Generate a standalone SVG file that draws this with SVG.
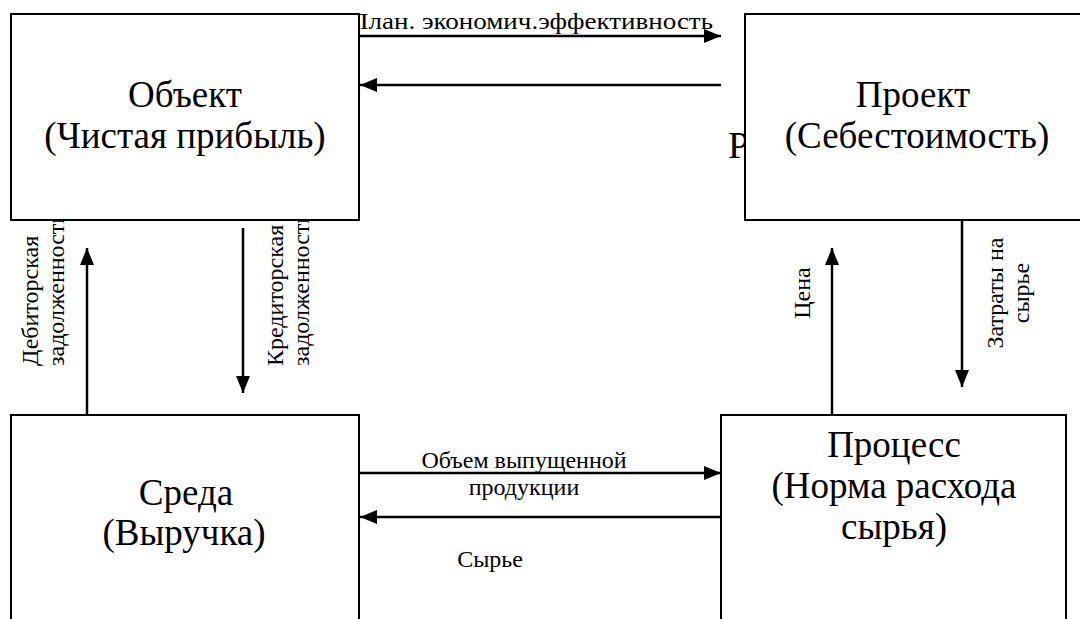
<svg xmlns="http://www.w3.org/2000/svg" width="1080" height="619" viewBox="0 0 1080 619">
<style>
.box{fill:#fff;stroke:#000;stroke-width:2}
.ln{stroke:#000;stroke-width:2.5;fill:none;marker-end:url(#ah)}
.big{font-family:"Liberation Serif","Times New Roman",serif;font-size:37px;fill:#000;text-anchor:middle}
.sm{font-family:"Liberation Serif","Times New Roman",serif;font-size:24px;fill:#000}
.mid{text-anchor:middle}
</style>
<defs>
<marker id="ah" markerUnits="userSpaceOnUse" markerWidth="18" markerHeight="14" refX="17" refY="7" orient="auto">
<path d="M0,0 L17,7 L0,14 Z" fill="#000"/>
</marker>
</defs>
<rect width="1080" height="619" fill="#fff"/>
<g id="labels-under">
<text class="sm" x="349" y="29" textLength="364" lengthAdjust="spacingAndGlyphs">План. экономич.эффективность</text>
<text class="sm" x="728" y="158" style="font-size:38px">Р</text>
<text class="sm" transform="translate(38,366) rotate(-90)">Дебиторская</text>
<text class="sm" transform="translate(64,366) rotate(-90)">задолженность</text>
<text class="sm" transform="translate(283,366) rotate(-90)">Кредиторская</text>
<text class="sm" transform="translate(309,366) rotate(-90)">задолженность</text>
</g>
<g id="obekt">
<rect class="box" x="11" y="14" width="348" height="206"/>
<text class="big" x="185" y="107">Объект</text>
<text class="big" x="185" y="148">(Чистая прибыль)</text>
</g>
<g id="proekt">
<rect class="box" x="745" y="14" width="345" height="206"/>
<text class="big" x="913" y="107">Проект</text>
<text class="big" x="917" y="148">(Себестоимость)</text>
</g>
<g id="sreda">
<rect class="box" x="11" y="415" width="348" height="215"/>
<text class="big" x="186" y="505">Среда</text>
<text class="big" x="184" y="545">(Выручка)</text>
</g>
<g id="process">
<rect class="box" x="721" y="415" width="345" height="215"/>
<text class="big" x="894" y="457">Процесс</text>
<text class="big" x="894" y="498">(Норма расхода</text>
<text class="big" x="894" y="539">сырья)</text>
</g>
<g id="connectors">
<line class="ln" x1="360" y1="36" x2="721" y2="36"/>
<line class="ln" x1="721" y1="85" x2="360" y2="85"/>
<line class="ln" x1="87" y1="415" x2="87" y2="248"/>
<line class="ln" x1="243" y1="228" x2="243" y2="393"/>
<line class="ln" x1="832" y1="415" x2="832" y2="248"/>
<line class="ln" x1="962" y1="220" x2="962" y2="387"/>
<line class="ln" x1="360" y1="473" x2="721" y2="473"/>
<line class="ln" x1="721" y1="517" x2="360" y2="517"/>
</g>
<g id="connector-labels">
<text class="sm mid" x="524" y="468">Объем выпущенной</text>
<text class="sm mid" x="524" y="495">продукции</text>
<text class="sm mid" x="490" y="567">Сырье</text>
<text class="sm mid" transform="translate(810,293) rotate(-90)">Цена</text>
<text class="sm mid" transform="translate(1003,293) rotate(-90)">Затраты на</text>
<text class="sm mid" transform="translate(1029,293) rotate(-90)">сырье</text>
</g>
</svg>
